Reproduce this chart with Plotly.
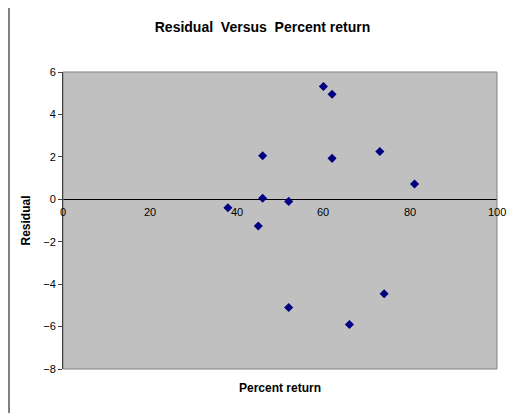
import plotly.graph_objects as go

percent_return = [38, 45, 46, 46, 52, 52, 60, 62, 62, 66, 73, 74, 81]
residual = [-0.4, -1.26, 2.05, 0.05, -0.1, -5.1, 5.32, 4.95, 1.93, -5.9, 2.25, -4.45, 0.72]
x_ticks = [0, 20, 40, 60, 80, 100]
y_ticks = [-8, -6, -4, -2, 0, 2, 4, 6]

font = "Liberation Sans, Arial, sans-serif"
fig = go.Figure(go.Scatter(x=percent_return, y=residual, mode="markers",
                           marker=dict(symbol="diamond", size=7, color="#000080")))

for t in x_ticks:
    fig.add_annotation(x=t, y=0, text=str(t), showarrow=False, yshift=-13,
                       font=dict(family=font, size=11, color="black"))

fig.update_layout(
    width=509, height=405,
    margin=dict(l=55, r=20, t=64, b=44),
    paper_bgcolor="white", plot_bgcolor="#c0c0c0",
    showlegend=False,
    font=dict(family=font, size=11, color="black"),
    title=dict(text="<b>Residual  Versus  Percent return</b>", x=0.5, xanchor="center",
               y=1 - 19 / 405, yanchor="middle", font=dict(family=font, size=14)),
    xaxis=dict(range=[0, 100], tickvals=x_ticks, showticklabels=False, showgrid=False,
               zeroline=False, showline=False,
               title=dict(text="<b>Percent return</b>", font=dict(size=12), standoff=14)),
    yaxis=dict(range=[-8, 6], tickvals=y_ticks, showgrid=False, zeroline=True,
               zerolinecolor="black", zerolinewidth=1, showline=True, linecolor="black",
               ticks="outside", ticklen=4, mirror=False,
               title=dict(text="<b>Residual</b>", font=dict(size=12), standoff=10)),
    shapes=[
        dict(type="rect", xref="paper", yref="paper", x0=0, x1=1, y0=0, y1=1,
             line=dict(color="#808080", width=1)),
        dict(type="rect", xref="paper", yref="paper", x0=-53/426, x1=1+24/426,
             y0=-48/289, y1=1+63/289, line=dict(color="black", width=1)),
    ],
)
fig.write_html("out.html")
